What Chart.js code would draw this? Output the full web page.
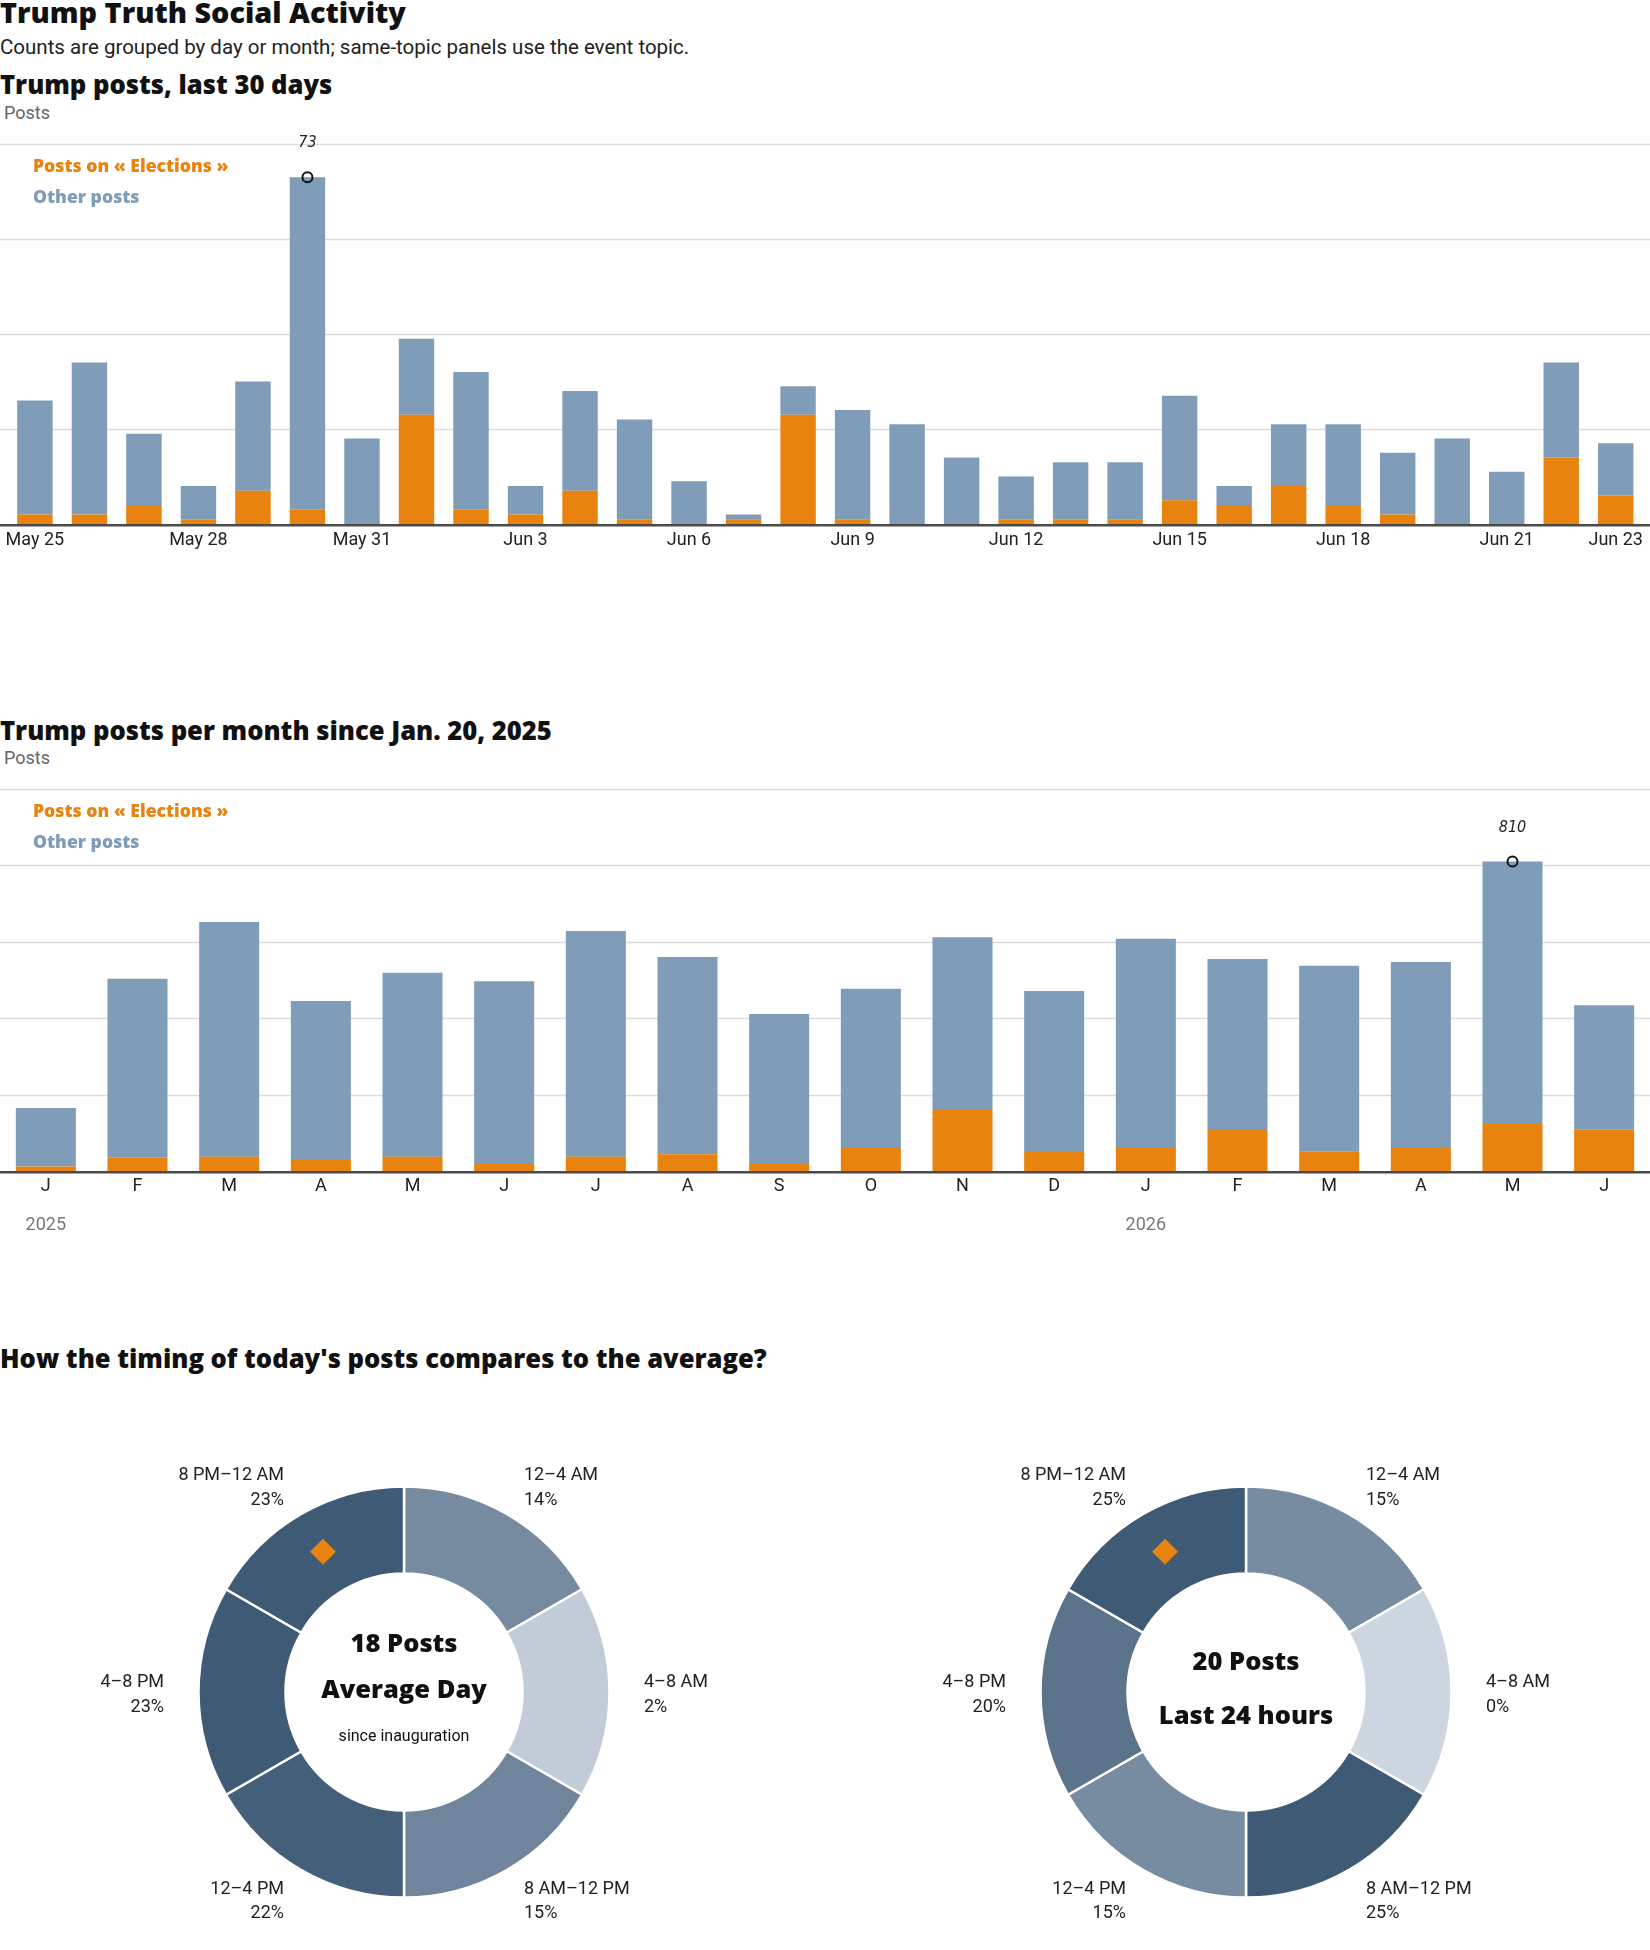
<!DOCTYPE html>
<html>
<head>
<meta charset="utf-8">
<title>Trump Truth Social Activity</title>
<script src="https://cdn.jsdelivr.net/npm/chart.js@4.4.1/dist/chart.umd.min.js"></script>
<style>
    body { margin: 0; background: #fff; }
    #page { position: relative; width: 1650px; height: 1950px; font-family: Roboto, "Liberation Sans", sans-serif; color: #222; }
    .t { position: absolute; white-space: nowrap; }
    .heavy { font-family: "Open Sans", "DejaVu Sans", sans-serif; font-weight: 800; color: #111; }
    canvas { position: absolute; }
    .legend { font-size: 17.6px; line-height: 17px; }
    .head { font-size: 25.6px; line-height: 25px; }
</style>
</head>
<body>
<div id="page">
    <div class="t heavy" style="left:0;top:-2px;font-size:28.8px;line-height:28px;">Trump Truth Social Activity</div>
    <div class="t" style="left:0;top:37px;font-size:20.5px;line-height:20px;">Counts are grouped by day or month; same-topic panels use the event topic.</div>

    <div class="t heavy head" style="left:0;top:72px;">Trump posts, last 30 days</div>
    <div class="t" style="left:4px;top:104px;font-size:18px;line-height:18px;color:#666;">Posts</div>
    <canvas id="dailyChart" width="1650" height="440" style="left:0;top:120px;"></canvas>
    <div class="t heavy legend" style="left:33px;top:157px;color:#e8830f;">Posts on « Elections »</div>
    <div class="t heavy legend" style="left:33px;top:188px;color:#7f9db9;">Other posts</div>

    <div class="t heavy head" style="left:0;top:718px;">Trump posts per month since Jan. 20, 2025</div>
    <div class="t" style="left:4px;top:749px;font-size:18px;line-height:18px;color:#666;">Posts</div>
    <canvas id="monthlyChart" width="1650" height="480" style="left:0;top:770px;"></canvas>
    <div class="t heavy legend" style="left:33px;top:802px;color:#e8830f;">Posts on « Elections »</div>
    <div class="t heavy legend" style="left:33px;top:833px;color:#7f9db9;">Other posts</div>

    <div class="t heavy head" style="left:0;top:1346px;">How the timing of today's posts compares to the average?</div>
    <canvas id="avgDonut" width="700" height="500" style="left:54px;top:1442px;"></canvas>
    <canvas id="todayDonut" width="700" height="500" style="left:896px;top:1442px;"></canvas>
</div>

<script>
// ---- data ----
var dayLabels = ['May 25', 'May 26', 'May 27', 'May 28', 'May 29', 'May 30', 'May 31',
    'Jun 1', 'Jun 2', 'Jun 3', 'Jun 4', 'Jun 5', 'Jun 6', 'Jun 7', 'Jun 8', 'Jun 9', 'Jun 10',
    'Jun 11', 'Jun 12', 'Jun 13', 'Jun 14', 'Jun 15', 'Jun 16', 'Jun 17', 'Jun 18', 'Jun 19',
    'Jun 20', 'Jun 21', 'Jun 22', 'Jun 23'];
var dayTotal = [26, 34, 19, 8, 30, 73, 18, 39, 32, 8, 28, 22, 9, 2, 29, 24, 21, 14, 10, 13,
    13, 27, 8, 21, 21, 15, 18, 11, 34, 17];
var dayElections = [2, 2, 4, 1, 7, 3, 0, 23, 3, 2, 7, 1, 0, 1, 23, 1, 0, 0, 1, 1,
    1, 5, 4, 8, 4, 2, 0, 0, 14, 6];
var dayGrid = [0, 20, 40, 60, 80];

var monthLabels = ['J', 'F', 'M', 'A', 'M', 'J', 'J', 'A', 'S', 'O', 'N', 'D', 'J', 'F', 'M', 'A', 'M', 'J'];
var monthTotal = [165, 503, 652, 445, 519, 497, 628, 560, 411, 477, 612, 471, 608, 555, 537, 547, 810, 434];
var monthElections = [12, 35, 37, 29, 37, 18, 37, 44, 18, 63, 162, 50, 63, 110, 52, 63, 123, 108];
var monthGrid = [0, 200, 400, 600, 800, 1000];
var yearLabels = ['2025', '2026'];
var yearStartIdx = [0, 12];

var slotLabels = ['12–4 AM', '4–8 AM', '8 AM–12 PM', '12–4 PM', '4–8 PM', '8 PM–12 AM'];
var slotHours = [4, 4, 4, 4, 4, 4];
var avgShare = [14, 2, 15, 22, 23, 23];
var todayShare = [15, 0, 25, 15, 20, 25];
var currentSlot = 5;

var ORANGE = '#e8830f';
var BLUE = '#7f9db9';
var HEAVY_FAMILY = '"Open Sans", "DejaVu Sans", sans-serif';

function others(total, part) {
    return total.map(function (v, i) { return v - part[i]; });
}

// gridlines across the whole width + dark baseline
var fullGrid = {
    id: 'fullGrid',
    beforeDatasetsDraw: function (chart, args, opts) {
        var y = chart.scales.y, ctx = chart.ctx;
        ctx.save();
        ctx.strokeStyle = '#dcdcdc';
        ctx.lineWidth = 1.3;
        opts.values.forEach(function (v) {
            if (v === 0) return;
            var py = Math.round(y.getPixelForValue(v)) + 0.5;
            ctx.beginPath(); ctx.moveTo(0, py); ctx.lineTo(chart.width, py); ctx.stroke();
        });
        ctx.restore();
    },
    afterDatasetsDraw: function (chart) {
        var y = chart.scales.y, ctx = chart.ctx;
        var py = y.getPixelForValue(0) + 1.2;
        ctx.save();
        ctx.strokeStyle = '#4a4a4a';
        ctx.lineWidth = 2.5;
        ctx.beginPath(); ctx.moveTo(0, py); ctx.lineTo(chart.width, py); ctx.stroke();
        ctx.restore();
    }
};

// circle + value above the tallest bar
var peakMark = {
    id: 'peakMark',
    afterDatasetsDraw: function (chart) {
        var d0 = chart.data.datasets[0].data, d1 = chart.data.datasets[1].data;
        var totals = d0.map(function (v, i) { return v + d1[i]; });
        var idx = totals.indexOf(Math.max.apply(null, totals));
        var bar = chart.getDatasetMeta(1).data[idx];
        var ctx = chart.ctx;
        ctx.save();
        ctx.strokeStyle = '#111';
        ctx.lineWidth = 2;
        ctx.beginPath(); ctx.arc(bar.x, bar.y, 5, 0, Math.PI * 2); ctx.stroke();
        ctx.fillStyle = '#222';
        ctx.font = 'italic 16px "Liberation Sans Narrow", "DejaVu Sans Condensed", sans-serif';
        ctx.textAlign = 'center';
        ctx.textBaseline = 'middle';
        ctx.fillText(String(totals[idx]), bar.x, bar.y - 34);
        ctx.restore();
    }
};

// year captions below the month letters
var yearCaptions = {
    id: 'yearCaptions',
    afterDraw: function (chart) {
        var x = chart.scales.x, y = chart.scales.y, ctx = chart.ctx;
        ctx.save();
        ctx.fillStyle = '#777';
        ctx.font = '18px Roboto, sans-serif';
        ctx.textAlign = 'center';
        ctx.textBaseline = 'middle';
        yearLabels.forEach(function (lab, i) {
            ctx.fillText(lab, x.getPixelForValue(yearStartIdx[i]), y.getPixelForValue(0) + 54);
        });
        ctx.restore();
    }
};

function barChart(id, labels, elections, total, grid, pad, barPct, tickPad, tickCb, extra) {
    var ctx = document.getElementById(id).getContext('2d');
    return new Chart(ctx, {
        type: 'bar',
        data: {
            labels: labels,
            datasets: [{
                label: 'Posts on « Elections »',
                data: elections,
                backgroundColor: ORANGE
            }, {
                label: 'Other posts',
                data: others(total, elections),
                backgroundColor: BLUE
            }]
        },
        options: {
            responsive: false,
            animation: false,
            devicePixelRatio: 1,
            layout: { padding: pad },
            datasets: { bar: { categoryPercentage: 1, barPercentage: barPct } },
            scales: {
                x: {
                    stacked: true,
                    grid: { display: false, drawTicks: false },
                    border: { display: false },
                    afterFit: function (s) { s.height = 30; },
                    ticks: {
                        autoSkip: false,
                        maxRotation: 0,
                        padding: tickPad,
                        color: '#222',
                        font: { family: 'Roboto', size: 18 },
                        callback: tickCb
                    }
                },
                y: {
                    stacked: true,
                    display: false,
                    min: 0,
                    max: grid[grid.length - 1]
                }
            },
            plugins: {
                legend: { display: false },
                tooltip: { enabled: false },
                fullGrid: { values: grid }
            }
        },
        plugins: [fullGrid, peakMark].concat(extra || [])
    });
}

barChart('dailyChart', dayLabels, dayElections, dayTotal, dayGrid,
    { left: 7, right: 7, top: 24, bottom: 6 }, 0.65, 5.5,
    function (v, i) { return (i % 3 === 0 || i === dayLabels.length - 1) ? dayLabels[i] : ''; });

barChart('monthlyChart', monthLabels, monthElections, monthTotal, monthGrid,
    { left: 0, right: 0, top: 19, bottom: 49 }, 0.655, 4.5,
    function (v, i) { return monthLabels[i]; }, [yearCaptions]);

// ---- donuts ----
var OUTER_R = 205.5, INNER_R = 118.5;

function shade(pct, maxPct) {
    var light = [205, 215, 225], dark = [62, 90, 117];
    var t = maxPct ? pct / maxPct : 0;
    var c = light.map(function (l, k) { return Math.round(l + (dark[k] - l) * t); });
    return 'rgb(' + c.join(',') + ')';
}

var slotText = {
    id: 'slotText',
    afterDraw: function (chart, args, opts) {
        var ctx = chart.ctx, meta = chart.getDatasetMeta(0);
        var cx = (chart.chartArea.left + chart.chartArea.right) / 2;
        var cy = (chart.chartArea.top + chart.chartArea.bottom) / 2;
        ctx.save();
        ctx.fillStyle = '#222';
        ctx.font = '18px Roboto, sans-serif';
        ctx.textBaseline = 'middle';
        meta.data.forEach(function (arc, i) {
            var mid = (arc.startAngle + arc.endAngle) / 2;
            var x = cx + 240 * Math.cos(mid), y = cy + 239 * Math.sin(mid);
            ctx.textAlign = Math.cos(mid) > 0 ? 'left' : 'right';
            ctx.fillText(slotLabels[i], x, y - 9.5);
            ctx.fillText(opts.shares[i] + '%', x, y + 15);
        });

        // marker in the current time slot
        var p = meta.data[currentSlot].tooltipPosition();
        ctx.fillStyle = ORANGE;
        ctx.beginPath();
        ctx.moveTo(p.x, p.y - 13); ctx.lineTo(p.x + 13, p.y);
        ctx.lineTo(p.x, p.y + 13); ctx.lineTo(p.x - 13, p.y);
        ctx.closePath(); ctx.fill();

        // centre text
        ctx.textAlign = 'center';
        opts.center.forEach(function (line) {
            ctx.fillStyle = '#111';
            ctx.font = line.font;
            ctx.fillText(line.text, cx, cy + line.dy);
        });
        ctx.restore();
    }
};

function donut(id, shares, center) {
    var maxShare = Math.max.apply(null, shares);
    return new Chart(document.getElementById(id).getContext('2d'), {
        type: 'doughnut',
        data: {
            labels: slotLabels,
            datasets: [{
                data: slotHours,
                backgroundColor: shares.map(function (s) { return shade(s, maxShare); }),
                borderColor: '#fff',
                borderWidth: 2.5
            }]
        },
        options: {
            responsive: false,
            animation: false,
            devicePixelRatio: 1,
            radius: OUTER_R,
            cutout: (INNER_R / OUTER_R * 100) + '%',
            plugins: {
                legend: { display: false },
                tooltip: { enabled: false },
                slotText: { shares: shares, center: center }
            }
        },
        plugins: [slotText]
    });
}

var HEAVY = '800 25.5px ' + HEAVY_FAMILY;
donut('avgDonut', avgShare, [
    { text: '18 Posts', font: HEAVY, dy: -47 },
    { text: 'Average Day', font: HEAVY, dy: -1 },
    { text: 'since inauguration', font: '16px Roboto, sans-serif', dy: 45 }
]);
donut('todayDonut', todayShare, [
    { text: '20 Posts', font: HEAVY, dy: -29 },
    { text: 'Last 24 hours', font: HEAVY, dy: 25 }
]);
</script>
</body>
</html>
